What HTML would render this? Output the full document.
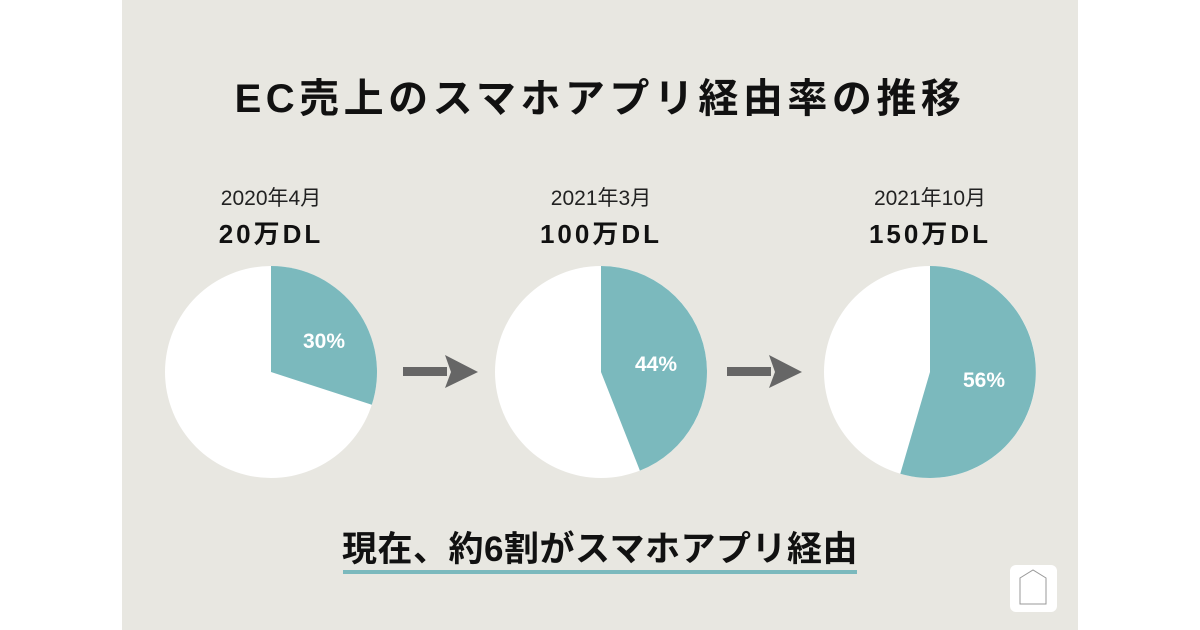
<!DOCTYPE html>
<html><head><meta charset="utf-8"><style>
body{margin:0;width:1200px;height:630px;background:#fff;overflow:hidden;font-family:"Liberation Sans","Noto Sans CJK JP",sans-serif}
#p{position:absolute;left:122px;top:0;width:956px;height:630px;background:#e8e7e1}
</style></head><body>
<div id="p"></div>
<svg width="1200" height="630" style="position:absolute;left:0;top:0">
<g font-family="Liberation Sans, Noto Sans CJK JP, sans-serif" text-anchor="middle">
<text x="600" y="112" font-size="40" font-weight="bold" fill="#111" letter-spacing="4.5">EC売上のスマホアプリ経由率の推移</text>
<text x="271" y="205" font-size="21" fill="#222">2020年4月</text>
<text x="271" y="243" font-size="26" font-weight="bold" fill="#111" letter-spacing="3">20万DL</text>
<text x="601" y="205" font-size="21" fill="#222">2021年3月</text>
<text x="601" y="243" font-size="26" font-weight="bold" fill="#111" letter-spacing="3">100万DL</text>
<text x="930" y="205" font-size="21" fill="#222">2021年10月</text>
<text x="930" y="243" font-size="26" font-weight="bold" fill="#111" letter-spacing="3">150万DL</text>
</g>
<circle cx="271" cy="372" r="106" fill="#fff"/>
<path d="M271 372 L271 266 A106 106 0 0 1 371.8 404.8 Z" fill="#7bb9bd"/>
<circle cx="601" cy="372" r="106" fill="#fff"/>
<path d="M601 372 L601 266 A106 106 0 0 1 639.9 470.6 Z" fill="#7bb9bd"/>
<circle cx="930" cy="372" r="106" fill="#fff"/>
<path d="M930 372 L930 266 A106 106 0 1 1 900.3 473.8 Z" fill="#7bb9bd"/>
<g font-family="Liberation Sans, sans-serif" font-weight="bold" font-size="21" fill="#fff" text-anchor="middle">
<text x="324" y="348">30%</text>
<text x="656" y="371">44%</text>
<text x="984" y="387">56%</text>
</g>
<rect x="403" y="367" width="44" height="9" fill="#666"/>
<polygon points="445,355 478,372 445,388 451,372" fill="#666"/>
<rect x="727" y="367" width="44" height="9" fill="#666"/>
<polygon points="769,355 802,372 769,388 775,372" fill="#666"/>
<text x="600" y="561" font-family="Liberation Sans, Noto Sans CJK JP, sans-serif" font-size="35" font-weight="bold" fill="#111" text-anchor="middle" letter-spacing="0.5">現在、約6割がスマホアプリ経由</text>
<rect x="343" y="570" width="514" height="4" fill="#7bb9bd"/>
<rect x="1010" y="565" width="47" height="47" rx="6" fill="#fff"/>
<path d="M1020 604 L1020 578 L1033 570 L1046 578 L1046 604 Z" fill="none" stroke="#999" stroke-width="1"/>
</svg>
</body></html>
